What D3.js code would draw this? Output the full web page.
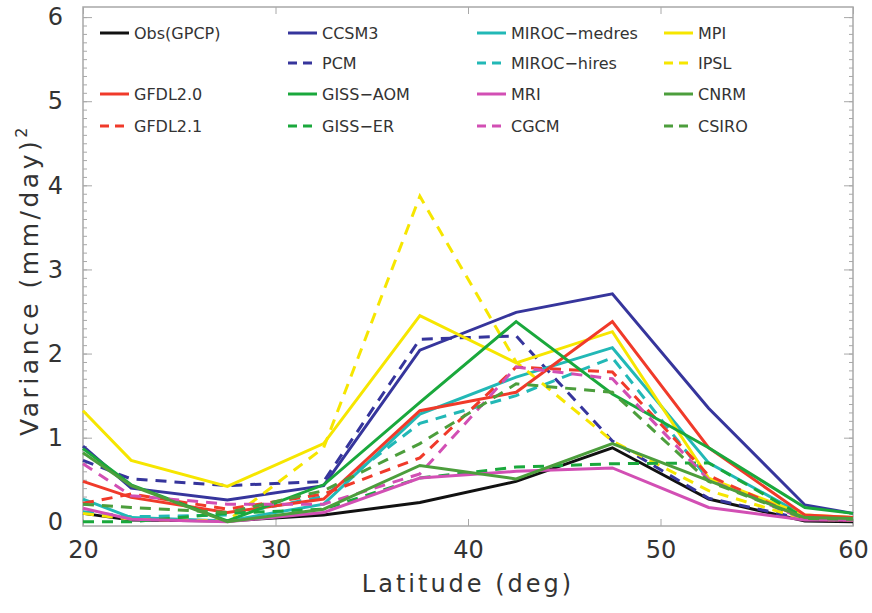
<!DOCTYPE html>
<html>
<head>
<meta charset="utf-8">
<script src="https://cdn.jsdelivr.net/npm/d3@7"></script>
<style>
  body { margin: 0; background: #fff; }
  text { font-family: "DejaVu Sans", sans-serif; fill: #333; }
</style>
</head>
<body>
<div id="chart"></div>
<script>
// latitude points (deg)
var latitudes = [20, 22.5, 27.5, 32.5, 37.5, 42.5, 47.5, 52.5, 57.5, 60];

// variance per model, (mm/day)^2
var obsGPCP    = [0.10, 0.02, 0.01, 0.08, 0.23, 0.48, 0.88, 0.27, 0.01, 0.00];
var ccsm3      = [0.90, 0.40, 0.26, 0.43, 2.04, 2.49, 2.71, 1.35, 0.20, 0.10];
var pcm        = [0.73, 0.51, 0.43, 0.48, 2.17, 2.21, 0.96, 0.28, 0.03, 0.02];
var miroc_med  = [0.27, 0.05, 0.01, 0.21, 1.28, 1.72, 2.07, 0.70, 0.07, 0.05];
var miroc_hi   = [0.12, 0.06, 0.08, 0.30, 1.17, 1.50, 1.95, 0.50, 0.05, 0.04];
var mpi        = [1.32, 0.73, 0.42, 0.93, 2.45, 1.89, 2.26, 0.52, 0.08, 0.05];
var ipsl       = [0.10, 0.03, 0.01, 0.88, 3.87, 1.90, 0.96, 0.37, 0.03, 0.02];
var gfdl20     = [0.48, 0.29, 0.11, 0.27, 1.32, 1.54, 2.38, 0.88, 0.08, 0.05];
var gfdl21     = [0.22, 0.33, 0.15, 0.33, 0.76, 1.84, 1.78, 0.55, 0.03, 0.02];
var gissAOM    = [0.87, 0.44, 0.01, 0.44, 1.42, 2.38, 1.52, 0.88, 0.17, 0.10];
var gissER     = [0.00, 0.00, 0.10, 0.15, 0.52, 0.65, 0.69, 0.70, 0.05, 0.03];
var mri        = [0.16, 0.03, 0.00, 0.11, 0.52, 0.60, 0.64, 0.17, 0.02, 0.02];
var cgcm       = [0.69, 0.31, 0.21, 0.21, 0.57, 1.84, 1.70, 0.50, 0.03, 0.02];
var cnrm       = [0.82, 0.43, 0.00, 0.15, 0.67, 0.51, 0.93, 0.49, 0.05, 0.04];
var csiro      = [0.21, 0.17, 0.11, 0.37, 0.93, 1.64, 1.54, 0.48, 0.04, 0.03];

var yTicks = [0, 1, 2, 3, 4, 5, 6];
var xTicks = [20, 30, 40, 50, 60];

// legend grid: [name, values, colour, dashed, column, row]
var series = [
    ["Obs(GPCP)",     obsGPCP,   "#111111", false, 0, 0],
    ["CCSM3",         ccsm3,     "#36359c", false, 1, 0],
    ["PCM",           pcm,       "#36359c", true,  1, 1],
    ["MIROC\u2212medres", miroc_med, "#22b8b6", false, 2, 0],
    ["MIROC\u2212hires",  miroc_hi,  "#22b8b6", true,  2, 1],
    ["MPI",           mpi,       "#f6e600", false, 3, 0],
    ["IPSL",          ipsl,      "#f6e600", true,  3, 1],
    ["GFDL2.0",       gfdl20,    "#f03a2a", false, 0, 2],
    ["GFDL2.1",       gfdl21,    "#f03a2a", true,  0, 3],
    ["GISS\u2212AOM", gissAOM,   "#1aa83c", false, 1, 2],
    ["GISS\u2212ER",  gissER,    "#1aa83c", true,  1, 3],
    ["MRI",           mri,       "#d24fb4", false, 2, 2],
    ["CGCM",          cgcm,      "#d24fb4", true,  2, 3],
    ["CNRM",          cnrm,      "#4c9e3c", false, 3, 2],
    ["CSIRO",         csiro,     "#4c9e3c", true,  3, 3]
];

var W = 872, H = 613;
var box = {left: 83, right: 853, top: 7, bottom: 526};

var svg = d3.select("#chart").append("svg")
    .attr("width", W)
    .attr("height", H);

var x = d3.scaleLinear().domain([20, 60]).range([box.left, box.right]);
var y = d3.scaleLinear().domain([-0.05, 6.12]).range([box.bottom, box.top]);

var minorY = d3.range(0, 61).map(function(i) { return i / 10; });

// plot frame
svg.append("rect")
    .attr("x", box.left).attr("y", box.top)
    .attr("width", box.right - box.left)
    .attr("height", box.bottom - box.top)
    .attr("fill", "none")
    .attr("stroke", "#a8a8a8")
    .attr("stroke-width", 1.5);

function styleAxis(g) {
    g.select(".domain").remove();
    g.selectAll(".tick line").attr("stroke", "#a8a8a8").attr("stroke-width", 1);
}

// left axis: minor + major ticks with labels
svg.append("g")
    .attr("transform", "translate(" + box.left + ",0)")
    .call(d3.axisRight(y).tickValues(minorY).tickSize(4).tickFormat(""))
    .call(styleAxis);
svg.append("g")
    .attr("transform", "translate(" + box.left + ",0)")
    .call(d3.axisLeft(y).tickValues(yTicks).tickSize(-9).tickPadding(20).tickFormat(d3.format("d")))
    .call(styleAxis)
    .selectAll("text")
        .style("font-size", "24px")
        .attr("fill", "#333");

// right axis: ticks only
svg.append("g")
    .attr("transform", "translate(" + box.right + ",0)")
    .call(d3.axisLeft(y).tickValues(minorY).tickSize(4).tickFormat(""))
    .call(styleAxis);
svg.append("g")
    .attr("transform", "translate(" + box.right + ",0)")
    .call(d3.axisLeft(y).tickValues(yTicks).tickSize(9).tickFormat(""))
    .call(styleAxis);

// bottom axis
svg.append("g")
    .attr("transform", "translate(0," + box.bottom + ")")
    .call(d3.axisTop(x).tickValues(xTicks).tickSize(7).tickFormat(""))
    .call(styleAxis);
svg.append("g")
    .attr("transform", "translate(0," + box.bottom + ")")
    .call(d3.axisBottom(x).tickValues(xTicks).tickSize(0).tickPadding(15).tickFormat(d3.format("d")))
    .call(styleAxis)
    .selectAll("text")
        .style("font-size", "24px")
        .attr("fill", "#333");

// top axis ticks
svg.append("g")
    .attr("transform", "translate(0," + box.top + ")")
    .call(d3.axisBottom(x).tickValues(xTicks).tickSize(7).tickFormat(""))
    .call(styleAxis);

// axis titles
svg.append("text")
    .attr("x", 468)
    .attr("y", 592)
    .attr("text-anchor", "middle")
    .style("font-size", "24px")
    .style("letter-spacing", "3px")
    .text("Latitude (deg)");

var yt = svg.append("text")
    .attr("transform", "translate(38,280) rotate(-90)")
    .attr("text-anchor", "middle")
    .style("font-size", "25px")
    .style("letter-spacing", "3.5px");
yt.append("tspan").text("Variance (mm/day)");
yt.append("tspan").attr("dy", -11).style("font-size", "16px").text("2");

// model lines
var line = d3.line()
    .x(function(d, i) { return x(latitudes[i]); })
    .y(function(d) { return y(d); });

svg.append("g").selectAll("path")
    .data(series)
    .enter().append("path")
        .attr("d", function(d) { return line(d[1]); })
        .attr("fill", "none")
        .attr("stroke", function(d) { return d[2]; })
        .attr("stroke-width", 3)
        .attr("stroke-linejoin", "miter")
        .attr("stroke-dasharray", function(d) { return d[3] ? "11,8" : null; });

// legend
var legCols = [100, 288, 477, 664];
var legRows = [33, 63, 94, 126];

var leg = svg.append("g").selectAll("g")
    .data(series)
    .enter().append("g")
        .attr("transform", function(d) {
            return "translate(" + legCols[d[4]] + "," + legRows[d[5]] + ")";
        });

leg.append("line")
    .attr("x1", 0).attr("x2", 29)
    .attr("stroke", function(d) { return d[2]; })
    .attr("stroke-width", 3)
    .attr("stroke-dasharray", function(d) { return d[3] ? "9,6" : null; });

leg.append("text")
    .attr("x", 34)
    .attr("dy", "0.35em")
    .style("font-size", "16px")
    .text(function(d) { return d[0]; });
</script>
</body>
</html>
